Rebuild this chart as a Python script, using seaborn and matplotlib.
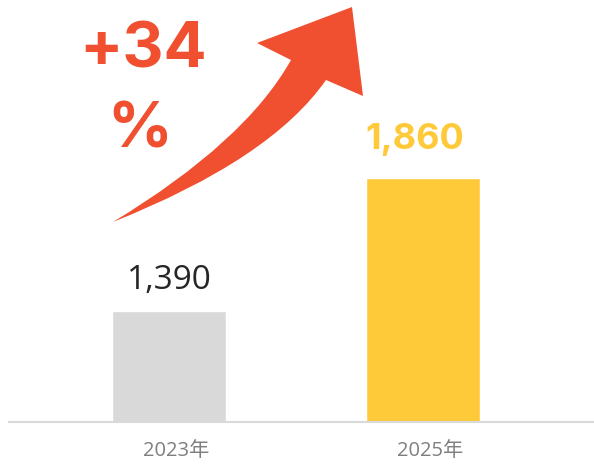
import matplotlib
matplotlib.use("Agg")
import matplotlib.pyplot as plt
import seaborn as sns
import pandas as pd
from matplotlib.path import Path
from matplotlib.patches import PathPatch

years = ["2023年", "2025年"]
values = [1390, 1860]
value_labels = ["1,390", "1,860"]
growth_label = "+34"

bar_colors = ["#d9d9d9", "#ffca3a"]
red = "#f04f30"

sns.set_theme(style="white")
plt.rcParams["font.family"] = ["Open Sans", "Noto Sans CJK JP", "DejaVu Sans"]
bold_font = ["Inter", "Open Sans", "DejaVu Sans"]

W, H = 594, 465
fig = plt.figure(figsize=(W / 100, H / 100), dpi=100)
# axes: left edge at x=9px, bottom at y=422px from top, reaching the top of the figure
ax = fig.add_axes([9 / W, (H - 422) / H, (W - 9) / W, 422 / H])

df = pd.DataFrame({"year": years, "value": values})
sns.barplot(data=df, x="year", y="value", hue="year", palette=bar_colors,
            width=0.45, legend=False, ax=ax, saturation=1)

ax.set_xlim(-0.63, 1.673)
ax.set_ylim(1000, 2487)
ax.set_xlabel("")
ax.set_ylabel("")
ax.set_yticks([])
for s in ["top", "left", "right"]:
    ax.spines[s].set_visible(False)
ax.spines["bottom"].set_color("#d9d9d9")
ax.spines["bottom"].set_linewidth(1.5)
ax.tick_params(axis="x", length=0, pad=14, labelsize=14.5, labelcolor="#7f7f7f")
offset = matplotlib.transforms.ScaledTranslation(7 / 100, 0, fig.dpi_scale_trans)
for lbl in ax.get_xticklabels():
    lbl.set_transform(lbl.get_transform() + offset)

# value labels
ax.annotate(value_labels[0], (0, values[0]), xytext=(0, 10), textcoords="offset points",
            ha="center", va="bottom", fontsize=24, color="#262626")
ax.annotate(value_labels[1], (1, values[1]), xytext=(-6, 16), textcoords="offset points",
            ha="center", va="bottom", fontsize=26, color="#ffca3a", fontweight="bold",
            family=bold_font)


def px(x, y):
    return (x / W, 1 - y / H)


# curved growth arrow
verts = [px(113, 222), px(245, 142), px(291, 60),
         px(257, 43), px(352, 7), px(363, 96), px(326, 80),
         px(271, 159), px(113, 222), px(113, 222)]
codes = [Path.MOVETO, Path.CURVE3, Path.CURVE3,
         Path.LINETO, Path.LINETO, Path.LINETO, Path.LINETO,
         Path.CURVE3, Path.CURVE3, Path.CLOSEPOLY]
arrow = PathPatch(Path(verts, codes), transform=fig.transFigure, facecolor=red,
                  edgecolor="none")
fig.patches.append(arrow)

fig.text(*px(143, 68), growth_label, ha="center", va="baseline", fontsize=46,
         fontweight="bold", color=red, family=bold_font)
fig.text(*px(140, 147), "%", ha="center", va="baseline", fontsize=46,
         fontweight="bold", color=red, family=bold_font)

fig.savefig("out.png", dpi=100)
